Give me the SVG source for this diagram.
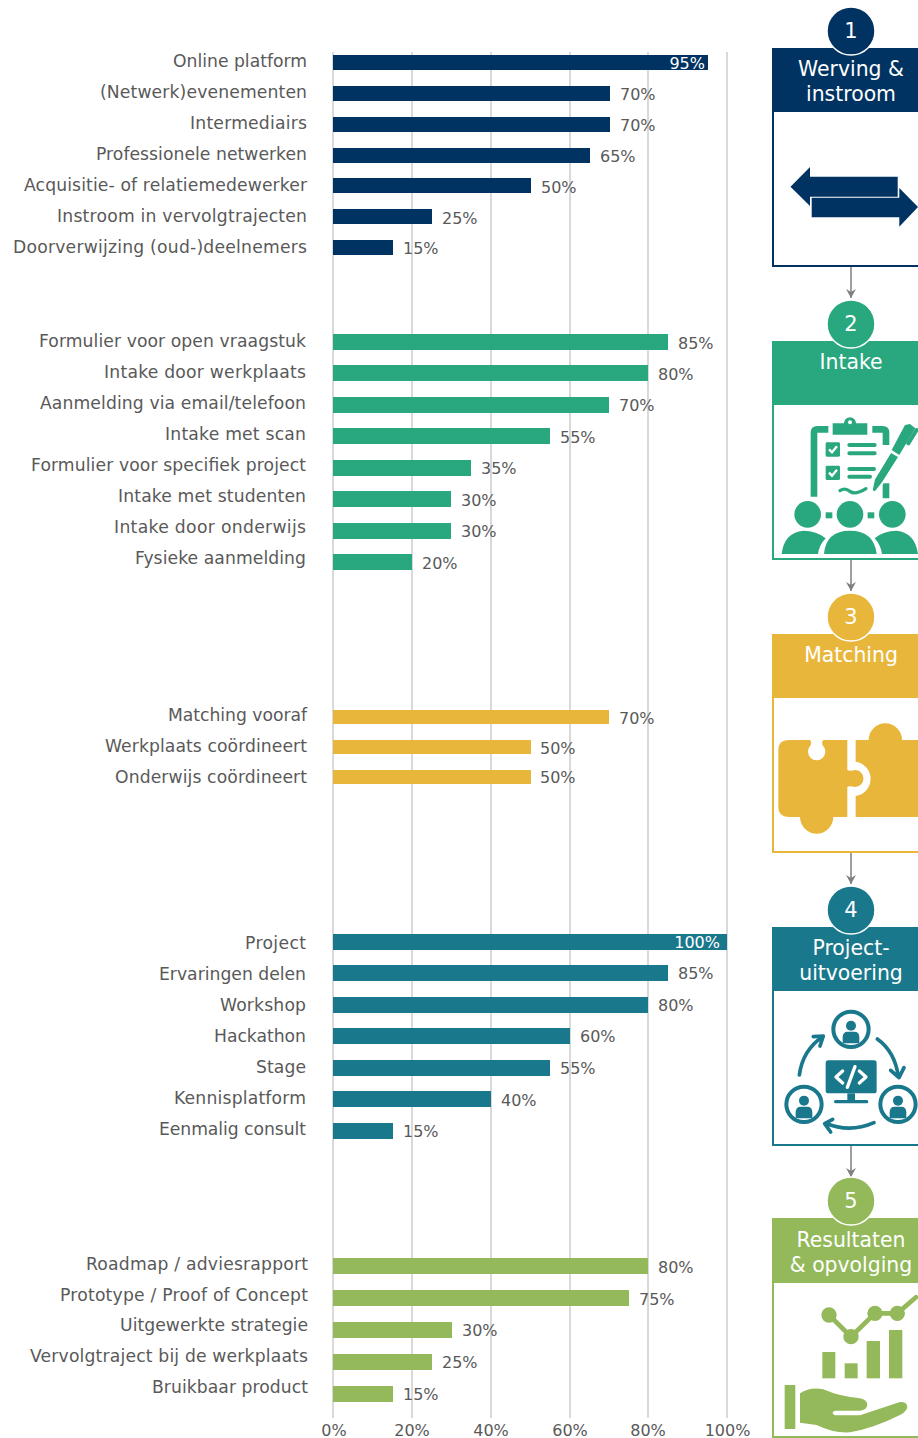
<svg xmlns="http://www.w3.org/2000/svg" width="918" height="1438" viewBox="0 0 918 1438">
<style>
text{font-family:"DejaVu Sans","Liberation Sans",sans-serif}
.l{font-size:17.2px;fill:#595959;text-anchor:end;dominant-baseline:central}
.v{font-size:16px;fill:#595959;dominant-baseline:central}
.w{font-size:16px;fill:#fff;text-anchor:end;dominant-baseline:central}
.a{font-size:16px;fill:#595959;text-anchor:middle;dominant-baseline:central}
.t{font-size:20.4px;fill:#fff;text-anchor:middle;dominant-baseline:central}
.n{font-size:21px;fill:#fff;text-anchor:middle;dominant-baseline:central}
.g{stroke:#d9d9d9;stroke-width:2}
.c1{fill:#003361}.c2{fill:#29a87f}.c3{fill:#e9b63c}.c4{fill:#1a788c}.c5{fill:#93b95b}
.ring{stroke:#fff;stroke-width:1.5}
.box{fill:#fff;stroke-width:2}
.conn{stroke:#7f7f7f;stroke-width:1.5;fill:none;marker-end:url(#arr)}
</style>
<defs>
<marker id="arr" markerUnits="userSpaceOnUse" markerWidth="10" markerHeight="10" refX="9" refY="5" orient="auto"><path d="M0 0L9 5L0 10L3 5Z" fill="#7f7f7f"/></marker>
<g id="person"><circle r="53" fill="none" stroke="#1a788c" stroke-width="12"/><circle cy="-11" r="15" fill="#1a788c"/><path d="M-25 42V24Q-25 7 -10 7H10Q25 7 25 24V42Z" fill="#1a788c"/></g>
</defs>
<g id="grid">
<path class="g" d="M333 52V1418M412 52V1418M491 52V1418M570 52V1418M648 52V1418M727 52V1418"/>
</g>
<g id="axis">
<text class="a" x="334" y="1430">0%</text><text class="a" x="412" y="1430">20%</text><text class="a" x="491" y="1430">40%</text><text class="a" x="570" y="1430">60%</text><text class="a" x="648" y="1430">80%</text><text class="a" x="727.500" y="1430">100%</text>
</g>
<g id="chart-werving" class="c1">
<rect x="333" y="55" width="375" height="15"/><rect x="333" y="86" width="277" height="15"/><rect x="333" y="117" width="277" height="15"/><rect x="333" y="148" width="257" height="15"/><rect x="333" y="178" width="198" height="15"/><rect x="333" y="209" width="99" height="15"/><rect x="333" y="240" width="60" height="15"/>
<text class="l" x="307" y="60.500" textLength="134">Online platform</text><text class="l" x="307" y="91.500" textLength="207">(Netwerk)evenementen</text><text class="l" x="307" y="122.500" textLength="117">Intermediairs</text><text class="l" x="307" y="153.500" textLength="211">Professionele netwerken</text><text class="l" x="307" y="184.500" textLength="283">Acquisitie- of relatiemedewerker</text><text class="l" x="307" y="215.500" textLength="250">Instroom in vervolgtrajecten</text><text class="l" x="307" y="246.500" textLength="294">Doorverwijzing (oud-)deelnemers</text>
<text class="w" x="705" y="63">95%</text><text class="v" x="620" y="94">70%</text><text class="v" x="620" y="125">70%</text><text class="v" x="600" y="156">65%</text><text class="v" x="541" y="187">50%</text><text class="v" x="442" y="218">25%</text><text class="v" x="403" y="248">15%</text>
</g>
<g id="chart-intake" class="c2">
<rect x="333" y="334" width="335" height="16"/><rect x="333" y="365" width="315" height="16"/><rect x="333" y="397" width="276" height="16"/><rect x="333" y="428" width="217" height="16"/><rect x="333" y="460" width="138" height="16"/><rect x="333" y="491" width="118" height="16"/><rect x="333" y="523" width="118" height="16"/><rect x="333" y="554" width="79" height="16"/>
<text class="l" x="306" y="340.500" textLength="267">Formulier voor open vraagstuk</text><text class="l" x="306" y="371.500" textLength="202">Intake door werkplaats</text><text class="l" x="306" y="402.500" textLength="266">Aanmelding via email/telefoon</text><text class="l" x="306" y="433.500" textLength="141">Intake met scan</text><text class="l" x="306" y="464.500" textLength="275">Formulier voor specifiek project</text><text class="l" x="306" y="495.500" textLength="188">Intake met studenten</text><text class="l" x="306" y="526.500" textLength="192">Intake door onderwijs</text><text class="l" x="306" y="557.500" textLength="171">Fysieke aanmelding</text>
<text class="v" x="678" y="343">85%</text><text class="v" x="658" y="374">80%</text><text class="v" x="619" y="405.500">70%</text><text class="v" x="560" y="437">55%</text><text class="v" x="481" y="468">35%</text><text class="v" x="461" y="500">30%</text><text class="v" x="461" y="531.500">30%</text><text class="v" x="422" y="563">20%</text>
</g>
<g id="chart-matching" class="c3">
<rect x="333" y="710" width="276" height="14"/><rect x="333" y="740" width="198" height="14"/><rect x="333" y="770" width="198" height="14"/>
<text class="l" x="307" y="715" textLength="139">Matching vooraf</text><text class="l" x="307" y="746" textLength="202">Werkplaats coördineert</text><text class="l" x="307" y="777" textLength="192">Onderwijs coördineert</text>
<text class="v" x="619" y="718">70%</text><text class="v" x="540" y="748">50%</text><text class="v" x="540" y="777.500">50%</text>
</g>
<g id="chart-project" class="c4">
<rect x="333" y="934" width="394" height="16"/><rect x="333" y="965" width="335" height="16"/><rect x="333" y="997" width="315" height="16"/><rect x="333" y="1028" width="237" height="16"/><rect x="333" y="1060" width="217" height="16"/><rect x="333" y="1091" width="158" height="16"/><rect x="333" y="1123" width="60" height="16"/>
<text class="l" x="306" y="943" textLength="61">Project</text><text class="l" x="306" y="974" textLength="147">Ervaringen delen</text><text class="l" x="306" y="1005" textLength="86">Workshop</text><text class="l" x="306" y="1036" textLength="92">Hackathon</text><text class="l" x="306" y="1067" textLength="50">Stage</text><text class="l" x="306" y="1098" textLength="132">Kennisplatform</text><text class="l" x="306" y="1129" textLength="147">Eenmalig consult</text>
<text class="w" x="720" y="942.500">100%</text><text class="v" x="678" y="973.500">85%</text><text class="v" x="658" y="1005.500">80%</text><text class="v" x="580" y="1036.500">60%</text><text class="v" x="560" y="1068.500">55%</text><text class="v" x="501" y="1100">40%</text><text class="v" x="403" y="1131.500">15%</text>
</g>
<g id="chart-resultaten" class="c5">
<rect x="333" y="1258" width="315" height="16"/><rect x="333" y="1290" width="296" height="16"/><rect x="333" y="1322" width="119" height="16"/><rect x="333" y="1354" width="99" height="16"/><rect x="333" y="1386" width="60" height="16"/>
<text class="l" x="308" y="1263.500" textLength="222">Roadmap / adviesrapport</text><text class="l" x="308" y="1294.500" textLength="248">Prototype / Proof of Concept</text><text class="l" x="308" y="1325" textLength="188">Uitgewerkte strategie</text><text class="l" x="308" y="1356" textLength="278">Vervolgtraject bij de werkplaats</text><text class="l" x="308" y="1386.500" textLength="156">Bruikbaar product</text>
<text class="v" x="658" y="1267">80%</text><text class="v" x="639" y="1299">75%</text><text class="v" x="462" y="1330.500">30%</text><text class="v" x="442" y="1362.500">25%</text><text class="v" x="403" y="1394.500">15%</text>
</g>
<g id="connectors">
<path class="conn" d="M851 266V298"/><path class="conn" d="M851 559V591"/><path class="conn" d="M851 852V884"/><path class="conn" d="M851 1145V1177"/>
</g>
<g id="step-1">
<rect class="box" x="773" y="49" width="160" height="217" stroke="#003361"/>
<rect class="c1" x="772" y="49" width="146" height="63"/>
<circle class="c1 ring" cx="851" cy="31" r="24"/>
<text class="n" x="851" y="31">1</text>
<text class="t" x="851" y="68.800">Werving &amp;</text><text class="t" x="851" y="93.800">instroom</text>
<path class="c1" d="M790.500 186.700L810 167V176.700H897.700V196.700H810V206Z"/>
<path class="c1" d="M811.700 197.700H899.300V188L918 207L899.300 226.700V217.300H811.700Z"/>
</g>
<g id="step-2">
<rect class="box" x="773" y="342" width="160" height="217" stroke="#29a87f"/>
<rect class="c2" x="772" y="342" width="146" height="63"/>
<circle class="c2 ring" cx="851" cy="324" r="24"/>
<text class="n" x="851" y="324">2</text>
<text class="t" x="851" y="361.800">Intake</text>
<g transform="translate(760 400) scale(.3333)">
<path d="M162 290V98Q162 88 172 88H205M337 88H368Q378 88 378 98V135M378 250V295" fill="none" stroke="#29a87f" stroke-width="20"/>
<path class="c2" d="M218 70H252A18 18 0 0 1 288 70H322V104H218Z"/><circle cx="270" cy="67" r="6" fill="#fff"/>
<rect class="c2" x="197" y="127" width="43" height="43" rx="4"/><rect class="c2" x="197" y="197" width="43" height="43" rx="4"/>
<path d="M207 148L216 157L231 139M207 218L216 227L231 209" fill="none" stroke="#fff" stroke-width="7"/>
<path d="M268 135H344M268 160H344M268 207H342M268 230H330" fill="none" stroke="#29a87f" stroke-width="12" stroke-linecap="round"/>
<path d="M240 272Q255 262 270 274T318 266" fill="none" stroke="#29a87f" stroke-width="10" stroke-linecap="round"/>
<path class="c2" d="M335 272L342 238L392 155L418 170L366 252L345 278Z" stroke="#fff" stroke-width="6"/>
<path class="c2" d="M395 150L435 75L450 72L466 85L418 165Z"/>
<path d="M445 130L470 90" fill="none" stroke="#29a87f" stroke-width="12" stroke-linecap="round"/>
<circle class="c2" cx="143" cy="343" r="40"/><circle class="c2" cx="270" cy="343" r="40"/><circle class="c2" cx="397" cy="343" r="40"/>
<rect class="c2" x="197" y="337" width="20" height="18"/><rect class="c2" x="323" y="337" width="20" height="18"/>
<path class="c2" d="M65 462Q72 398 130 392Q170 392 197 415Q178 435 174 462Z"/>
<path class="c2" d="M192 462Q198 392 270 392Q342 392 350 462Z"/>
<path class="c2" d="M366 462Q362 435 344 415Q370 392 410 392Q465 398 474 462Z"/>
</g>
</g>
<g id="step-3">
<rect class="box" x="773" y="635" width="160" height="217" stroke="#e9b63c"/>
<rect class="c3" x="772" y="635" width="146" height="63"/>
<circle class="c3 ring" cx="851" cy="617" r="24"/>
<text class="n" x="851" y="617">3</text>
<text class="t" x="851" y="654.800">Matching</text>
<g transform="translate(760 690) scale(.3333)">
<path class="c3" d="M85 150H150Q156 155 152 166A26 26 0 1 0 188 166Q184 155 190 150H262V240Q268 244 285 240A25 25 0 0 1 285 291Q268 287 262 291V381H220A50 50 0 0 1 120 381H85Q55 381 55 351V180Q55 150 85 150Z"/>
<path class="c3" d="M287 150H326A50 50 0 0 1 426 150H480V381H287V318A52 52 0 0 0 287 215Z"/>
</g>
</g>
<g id="step-4">
<rect class="box" x="773" y="928" width="160" height="217" stroke="#1a788c"/>
<rect class="c4" x="772" y="928" width="146" height="63"/>
<circle class="c4 ring" cx="851" cy="910" r="24"/>
<text class="n" x="851" y="910">4</text>
<text class="t" x="851" y="947.800">Project-</text><text class="t" x="851" y="972.800">uitvoering</text>
<g transform="translate(760 985) scale(.3333)">
<use href="#person" x="273" y="133"/><use href="#person" x="132" y="358"/><use href="#person" x="414" y="358"/>
<rect class="c4" x="197" y="226" width="153" height="99" rx="8"/><rect class="c4" x="262" y="325" width="23" height="20"/><rect class="c4" x="222" y="345" width="103" height="10" rx="5"/>
<path d="M248 258L228 276L248 294M298 258L318 276L298 294M285 245L262 307" fill="none" stroke="#fff" stroke-width="10" stroke-linecap="round" stroke-linejoin="round"/>
<path d="M118 270Q128 195 188 155M160 155L190 153L180 183M352 162Q405 200 415 275M392 256L417 278L432 248M342 413Q270 445 197 415M218 403L194 416L212 441" fill="none" stroke="#1a788c" stroke-width="11" stroke-linecap="round" stroke-linejoin="round"/>
</g>
</g>
<g id="step-5">
<rect class="box" x="773" y="1219" width="160" height="218" stroke="#93b95b"/>
<rect class="c5" x="772" y="1219" width="146" height="64"/>
<circle class="c5 ring" cx="851" cy="1201" r="24"/>
<text class="n" x="851" y="1201">5</text>
<text class="t" x="851" y="1239.800">Resultaten</text><text class="t" x="851" y="1264.800">&amp; opvolging</text>
<g transform="translate(760 1270) scale(.3333)">
<path d="M207 135L273 200L345 130H412L468 82" fill="none" stroke="#93b95b" stroke-width="14" stroke-linecap="round"/>
<circle class="c5" cx="207" cy="135" r="23"/><circle class="c5" cx="273" cy="200" r="23"/><circle class="c5" cx="345" cy="130" r="23"/><circle class="c5" cx="412" cy="130" r="23"/>
<rect class="c5" x="187" y="246" width="39" height="79"/><rect class="c5" x="254" y="280" width="39" height="45"/><rect class="c5" x="320" y="213" width="40" height="112"/><rect class="c5" x="387" y="180" width="40" height="145"/>
<rect class="c5" x="74" y="345" width="32" height="132"/>
<path class="c5" d="M120 370Q150 350 190 358Q240 380 300 385Q322 390 322 405Q320 420 300 422H225Q210 428 225 436H300L420 396Q442 395 442 412Q440 425 420 435Q340 475 270 487Q220 490 170 465L120 458Z"/>
</g>
</g>
</svg>
